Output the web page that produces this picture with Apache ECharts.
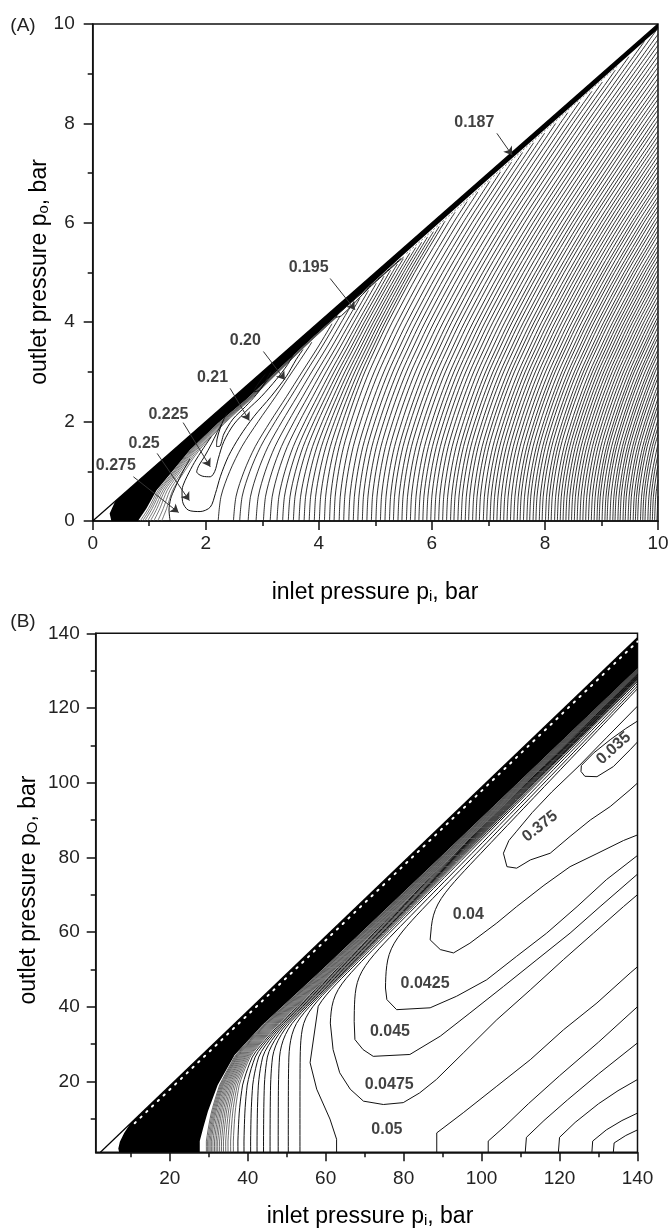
<!DOCTYPE html>
<html>
<head>
<meta charset="utf-8">
<script src="https://cdn.jsdelivr.net/npm/echarts@6/dist/echarts.min.js"></script>
<style>
  html, body { margin: 0; padding: 0; background: #fff; }
  #chart { width: 672px; height: 1231px; }
</style>
</head>
<body>
<div id="chart"></div>
<script>
var FONT = 'Liberation Sans, Arial, sans-serif';

// ---------------- panel A : 0..10 bar ----------------
var ticksA = [0, 2, 4, 6, 8, 10];
var minorTicksA = [1, 3, 5, 7, 9];
var diagA = [[0, 0], [10, 10]];
// lower edge of the black band under the diagonal [p_i, p_o]
var bandEdgeA = [[0.8, 0], [0.95, 0.25], [1.13, 0.62], [1.33, 0.89], [1.72, 1.43], [2.22, 1.97], [2.7, 2.43],
  [3.15, 2.9], [3.72, 3.51], [4.3, 4.11], [5.5, 5.36], [7, 6.88], [8.5, 8.38], [10, 9.9]];
var bandTopA = [[10, 10], [0.4, 0.4], [0.3, 0.15], [0.33, 0]];
// lines hugging the band at lower left (start on p_o = 0) and how fast they close in
var hugA = [0.84, 0.88, 0.92, 0.97, 1.02, 1.08, 1.15, 1.22];
var hugSpread = [1, 0.85, 0.68, 0.55, 0.4, 0.28, 0.18, 0.12, 0.08, 0.05];
// where the dense contour family cuts p_o = 0
var denseA = [2.22, 2.49, 2.6, 2.75, 2.89, 3.02, 3.14, 3.26, 3.36, 3.46, 3.55, 3.65, 3.74, 3.83, 3.92, 4.01,
  4.10, 4.19, 4.27, 4.36, 4.44, 4.53, 4.61, 4.69, 4.77, 4.85, 4.93, 5.01, 5.09, 5.17, 5.25, 5.32, 5.40, 5.47,
  5.55, 5.62, 5.70, 5.77, 5.84, 5.91, 5.98, 6.05, 6.12, 6.19, 6.26, 6.33, 6.39, 6.46, 6.52, 6.59, 6.65, 6.72,
  6.78, 6.84, 6.91, 6.97, 7.03, 7.09, 7.15, 7.21, 7.27, 7.33, 7.39, 7.45, 7.51, 7.56, 7.62, 7.68, 7.73, 7.79,
  7.84, 7.90, 7.95, 8.01, 8.06, 8.11, 8.17, 8.22, 8.27, 8.32, 8.37, 8.42, 8.47, 8.52, 8.57, 8.62, 8.67, 8.72,
  8.77, 8.82, 8.87, 8.92, 8.96, 9.01, 9.06, 9.10, 9.15, 9.20, 9.24, 9.29, 9.33, 9.38, 9.42, 9.47, 9.51, 9.56,
  9.60, 9.64, 9.69, 9.73, 9.77, 9.82, 9.86, 9.90, 9.94, 9.98];
// traced shape of one member of the family: height and sideways drift
var shapeY = [0, 0.5, 1, 1.5, 2, 2.5, 3, 3.5, 4, 5, 6, 7, 8, 9, 10];
var shapeDX = [0, 0.02, 0.08, 0.17, 0.3, 0.45, 0.62, 0.82, 1.03, 1.5, 2.02, 2.59, 3.18, 3.8, 4.43];
// extra lean of the members next to the valley: lean factor by x-intercept, and its shape by height
var leanX0 = [2.2, 4.2];
var leanK = [2.58, 1];
var leanDX = [0, 0.02, 0.08, 0.16, 0.26, 0.36, 0.44, 0.5, 0.54, 0.58, 0.6, 0.6, 0.6, 0.6, 0.6];
// labelled contours, traced
var c0275 = [[1.37, 0], [1.35, 0.22], [1.38, 0.45], [1.45, 0.65], [1.53, 0.85], [1.62, 1.05], [1.72, 1.25]];
var c0250 = [[2.1, 1.7], [1.95, 1.45], [1.8, 1.18], [1.67, 0.9], [1.6, 0.72], [1.58, 0.62], [1.59, 0.39], [1.69, 0.22],
  [1.9, 0.19], [2.08, 0.28], [2.17, 0.55], [2.26, 0.9], [2.4, 1.3], [2.6, 1.7], [2.85, 2.1], [3.15, 2.5], [3.42, 2.9],
  [3.6, 3.25], [3.72, 3.45]];
var c0225 = [[2.28, 1.95], [2.2, 1.78], [2.1, 1.55], [1.98, 1.3], [1.88, 1.12], [1.84, 0.99], [1.95, 0.9], [2.08, 0.89],
  [2.16, 1.0], [2.22, 1.25], [2.32, 1.6], [2.5, 1.95], [2.75, 2.25], [2.98, 2.5], [3.25, 2.85], [3.45, 3.15], [3.55, 3.35]];
var c0210 = [[2.38, 2.18], [2.32, 2.05], [2.25, 1.85], [2.2, 1.65], [2.19, 1.5], [2.24, 1.5], [2.32, 1.75], [2.48, 2.05],
  [2.7, 2.3], [2.9, 2.55], [3.1, 2.85], [3.25, 3.05]];
var c0200 = [[3.05, 2.95], [2.95, 2.8], [2.87, 2.66], [2.85, 2.6], [2.95, 2.63], [3.05, 2.8], [3.15, 3.0]];
var c0195 = [[5.45, 5.28], [4.8, 4.62], [4.35, 4.18], [4.3, 4.1], [4.4, 4.13], [4.9, 4.7], [5.5, 5.31]];
var c0187 = [[5.55, 5.38], [9.3, 9.17]];
var labelsA = [['0.187', 6.75, 8.01], ['0.195', 3.82, 5.09], ['0.20', 2.70, 3.63], ['0.21', 2.12, 2.89],
  ['0.225', 1.34, 2.15], ['0.25', 0.91, 1.55], ['0.275', 0.41, 1.11]];
var leadersA = [[7.15, 7.80, 7.42, 7.36], [4.20, 4.88, 4.64, 4.25], [3.02, 3.41, 3.40, 2.84], [2.43, 2.67, 2.77, 2.02],
  [1.60, 1.98, 2.08, 1.09], [1.14, 1.36, 1.71, 0.41], [0.72, 0.89, 1.52, 0.17]];

// ---------------- panel B : 1..140 bar ----------------
var ticksB = [20, 40, 60, 80, 100, 120, 140];
var minorTicksB = [10, 30, 50, 70, 90, 110, 130];
var diagB = [[2.2, 1], [140, 138.8]];
var dotsB = [[11, 8.8], [140, 137.8]];
// band width below the diagonal, by p_o
var bandBY = [1, 4, 8, 12, 19, 27, 35, 50, 80, 110, 140];
var bandBW = [25.5, 22.5, 19.5, 16.6, 12.1, 8.4, 7.5, 8.0, 8.2, 8.2, 8.2];
var bandNotchB = [[9.8, 8.6], [8.3, 6.2], [7.2, 3.8], [6.8, 2], [7.0, 1]];
// contours rising from p_o = 1 into the band: start p_i and spacing from the band
var leftB = [27.4, 27.8, 28.2, 28.6, 29.0, 29.5, 30.0, 30.5, 31.0, 31.6, 32.2, 32.8, 33.5, 34.2, 35.0, 35.8,
  37.1, 38.8, 40.6, 42.3, 44.0, 45.7, 47.8, 50.4, 53.4];
var leftBE = [0.2, 0.45, 0.7, 0.95, 1.2, 1.5, 1.8, 2.1, 2.4, 2.7, 3.0, 3.3, 3.6, 3.9, 4.2, 4.5,
  5.0, 5.5, 6.0, 6.5, 7.0, 7.5, 8.0, 8.5, 9.0];
// labelled contours: traced part, then where the upper arm meets the band [p_i, p_o, spacing]
var c050 = [[56, 40.1], [56, 25], [57.7, 17.9], [61.1, 9.9], [62.8, 4.5], [62.8, 1]];
var c050Top = [56, 40.1, 9.8];
var c0475 = [[61.1, 35.6], [61.9, 28.5], [63.6, 22.3], [66.3, 17.9], [69.7, 14.7], [74.8, 13.8], [79.9, 14.3], [84.1, 16.9],
  [88.4, 20.5], [95.3, 27.6], [103.9, 36.5], [112.5, 44.5], [121, 52.6], [128.7, 59.7], [136.4, 66.8], [140, 70]];
var c0475Top = [61.1, 35.6, 10.8];
var c045 = [[67.3, 36], [67.5, 31.2], [69.6, 28.5], [72.2, 26.7], [81.6, 27.2], [89.4, 32.1], [97, 38.3], [105.6, 45.4],
  [114.2, 52.6], [122.7, 59.7], [130.4, 66.8], [140, 75.5]];
var c045Top = [67.3, 36, 12.5];
var c0425 = [[75.3, 45], [75.7, 41.9], [78.2, 39.2], [86.8, 39.7], [93.6, 42.8], [101.3, 47.2], [109, 53.5], [116.7, 59.7],
  [124.5, 66.8], [132, 74], [140, 80.5]];
var c0425Top = [75.3, 45, 14.5];
var c040 = [[86.8, 60], [86.8, 57.9], [89.4, 55.3], [92.8, 54.4], [97, 57], [103.9, 62.4], [109, 66.8], [116, 72.5],
  [122.7, 77.5], [129.6, 81], [136.4, 84.5], [140, 86]];
var c040Top = [86.8, 60, 16.5];
var c0375 = [[140, 120.5], [132, 112], [125, 104.5], [118, 97.5], [113, 92], [109, 87], [107, 84.5], [105.6, 81.1],
  [106.5, 77.5], [109, 77.1], [112.5, 79.3], [117.6, 81.1], [122.7, 85.6], [127.9, 90], [133, 93.6], [138.1, 98.1], [140, 99.9]];
var c035 = [[140, 116.5], [137, 114.5], [133, 111.5], [128.7, 107.9], [125.6, 104.6], [125.5, 103], [126.5, 101.7],
  [129.6, 101.6], [133.8, 104.3], [138.1, 108.8], [140, 110.9]];
var rightB = [
  [[88.5, 1], [88.5, 6.2], [95.3, 11.6], [103.9, 18.7], [112.5, 25.8], [121, 33.8], [129.6, 41], [138.1, 49], [140, 50.7]],
  [[101.7, 1], [101.7, 4], [106, 8], [112, 14], [120, 21.5], [130, 30.5], [140, 40]],
  [[111.2, 1], [111.5, 5], [116, 9.5], [122, 15], [130, 22], [140, 30.3]],
  [[119.7, 1], [120, 5], [124, 9], [130, 14], [135, 17.5], [140, 20.5]],
  [[128.3, 1], [128.5, 4], [132, 7], [136, 9.5], [140, 11.5]],
  [[133.8, 1], [134, 3.5], [137, 5.5], [140, 7]]
];
var labelsB = [['0.035', 133.9, 109.2, 42], ['0.375', 115.0, 88.3, 38], ['0.04', 96.6, 64.6, 0],
  ['0.0425', 85.5, 46.3, 0], ['0.045', 76.5, 33.2, 0], ['0.0475', 76.3, 19.1, 0], ['0.05', 75.7, 7.1, 0]];

// ---------------- helpers ----------------
function table(xs, ys, v) {
  if (v <= xs[0]) return ys[0];
  for (var i = 1; i < xs.length; i++) {
    if (v <= xs[i]) {
      var t = (v - xs[i - 1]) / (xs[i] - xs[i - 1]);
      return ys[i - 1] + t * (ys[i] - ys[i - 1]);
    }
  }
  return ys[ys.length - 1];
}
var bandAYs = bandEdgeA.map(function (p) { return p[1]; });
var bandAXs = bandEdgeA.map(function (p) { return p[0]; });
function limitA(y) { return table(bandAYs, bandAXs, y) + (y > 3 ? 0.07 : 0.03); }

// stop a line where it runs into the band or leaves the frame
function cut(raw, limitFn, xMax) {
  var out = [];
  for (var i = 0; i < raw.length; i++) {
    var p = raw[i];
    var f = p[0] - limitFn(p[1]);
    if (f < 0 || p[0] > xMax) {
      if (out.length) {
        var q = out[out.length - 1];
        var t;
        if (f < 0) { var fq = q[0] - limitFn(q[1]); t = fq / (fq - f); }
        else t = (xMax - q[0]) / (p[0] - q[0]);
        out.push([q[0] + t * (p[0] - q[0]), q[1] + t * (p[1] - q[1])]);
      }
      break;
    }
    out.push(p);
  }
  return out;
}

function followB(xv, y0, e) {
  var pts = [];
  for (var y = y0; y <= 139; y += 1.5) {
    var xb = y + 1.2 + table(bandBY, bandBW, y) + e * (1 - 0.75 * y / 140);
    var x = xv + 2.5 * Math.log(1 + Math.exp((xb - xv) / 2.5));
    if (x > 140) {
      if (pts.length) {
        var q = pts[pts.length - 1];
        var t = (140 - q[0]) / (x - q[0]);
        pts.push([140, q[1] + t * (y - q[1])]);
      }
      break;
    }
    pts.push([x, y]);
  }
  return pts;
}

function poly(pts, ax, color, width, extra) {
  var s = {
    type: 'line', xAxisIndex: ax, yAxisIndex: ax, data: pts, symbol: 'none', showSymbol: false,
    silent: true, animation: false, clip: true, z: 2,
    lineStyle: { color: color, width: width }
  };
  if (extra) for (var k in extra) s[k] = extra[k];
  return s;
}

function polygon(pts, ax, fill) {
  return {
    type: 'custom', xAxisIndex: ax, yAxisIndex: ax, silent: true, animation: false, clip: true, z: 2,
    data: [[0, 0]],
    renderItem: function (params, api) {
      return { type: 'polygon', shape: { points: pts.map(function (p) { return api.coord(p); }) }, style: { fill: fill } };
    }
  };
}

function labelSeries(list, ax) {
  return {
    type: 'scatter', xAxisIndex: ax, yAxisIndex: ax, silent: true, animation: false, z: 6,
    symbolSize: 2, itemStyle: { color: 'rgba(0,0,0,0)' },
    label: { show: true, position: 'inside', formatter: '{b}', fontSize: 16, fontWeight: 'bold', fontFamily: FONT, color: '#111' },
    data: list.map(function (l) {
      return { name: l[0], value: [l[1], l[2]], label: { rotate: l[3] || 0 } };
    })
  };
}

function axisPair(grid, min, max, major, minor, margin, pos) {
  var line = { color: '#111', width: 1.5 };
  return [{
    type: 'value', gridIndex: grid, min: min, max: max, position: pos, offset: 0,
    axisLine: { show: true, onZero: false, lineStyle: line },
    axisTick: { show: true, inside: false, length: 9, customValues: major, lineStyle: line },
    axisLabel: { show: true, customValues: major, margin: margin, fontSize: 19, color: '#222', fontFamily: FONT },
    splitLine: { show: false }
  }, {
    type: 'value', gridIndex: grid, min: min, max: max, position: pos, offset: 0,
    axisLine: { show: false, onZero: false },
    axisTick: { show: true, inside: false, length: 5, customValues: minor, lineStyle: line },
    axisLabel: { show: false },
    splitLine: { show: false }
  }];
}

// ---------------- series ----------------
var series = [];

// panel A dense family
denseA.forEach(function (x0) {
  var k = table(leanX0, leanK, x0);
  var raw = shapeY.map(function (y, i) {
    return [x0 + shapeDX[i] + (k - 1) * leanDX[i], y];
  });
  series.push(poly(cut(raw, limitA, 10), 0, '#1a1a1a', 0.9, { smooth: 0.3 }));
});
hugA.forEach(function (x0) {
  var pts = [];
  for (var i = 0; i < hugSpread.length; i++) {
    pts.push([bandEdgeA[i][0] + (x0 - 0.8) * hugSpread[i], bandEdgeA[i][1]]);
  }
  series.push(poly(pts, 0, '#555', 0.8, { smooth: 0.3 }));
});
[c0275, c0250, c0225, c0210, c0200, c0195].forEach(function (c) {
  series.push(poly(c, 0, '#111', 1, { smooth: 0.3 }));
});
series.push(polygon([[0.33, 0]].concat(bandEdgeA, bandTopA), 0, '#000'));
series.push(poly(c0187, 0, '#777', 1, { lineStyle: { color: '#777', width: 1, type: [2, 2] } }));
series.push(poly(diagA, 0, '#000', 1.2));
series.push({
  type: 'lines', coordinateSystem: 'cartesian2d', xAxisIndex: 0, yAxisIndex: 0, silent: true, animation: false, z: 5,
  symbol: ['none', 'arrow'], symbolSize: 8,
  lineStyle: { color: '#333', width: 1, opacity: 1 },
  data: leadersA.map(function (l) { return { coords: [[l[0], l[1]], [l[2], l[3]]] }; })
});
series.push(labelSeries(labelsA, 0));

// panel B
leftB.forEach(function (x0, i) {
  var grey = i < 16;
  series.push(poly(followB(x0, 1, leftBE[i]), 2, grey ? '#444' : '#111', grey ? 0.8 : 1));
});
[[c050, c050Top], [c0475, c0475Top], [c045, c045Top], [c0425, c0425Top], [c040, c040Top]].forEach(function (c) {
  var top = followB(c[1][0], c[1][1], c[1][2]).reverse();
  series.push(poly(top.concat(c[0].slice(1)), 2, '#111', 1));
});
series.push(poly(c0375, 2, '#111', 1));
series.push(poly(c035, 2, '#111', 1));
rightB.forEach(function (c) { series.push(poly(c, 2, '#111', 1)); });

var bandPolyB = [[7.0, 1]];
for (var i = 0; i < bandBY.length; i++) {
  var x = bandBY[i] + 1.2 + bandBW[i];
  if (x > 140) {
    var py = bandBY[i - 1], px = bandBY[i - 1] + 1.2 + bandBW[i - 1];
    var t = (140 - px) / (x - px);
    bandPolyB.push([140, py + t * (bandBY[i] - py)]);
    break;
  }
  bandPolyB.push([x, bandBY[i]]);
}
bandPolyB.push([140, 138.8]);
bandPolyB = bandPolyB.concat(bandNotchB);
series.push(polygon(bandPolyB, 2, '#000'));
series.push(poly(dotsB, 2, '#fff', 2, { lineStyle: { color: '#fff', width: 2, type: [1.5, 6.5], cap: 'round' }, z: 3 }));
series.push(poly(diagB, 2, '#000', 1.2));
series.push(labelSeries(labelsB, 2));

// ---------------- titles ----------------
var rich = {
  n: { fontSize: 23, fontFamily: FONT, color: '#222', verticalAlign: 'bottom', lineHeight: 26 },
  s: { fontSize: 15, fontFamily: FONT, color: '#222', verticalAlign: 'bottom', lineHeight: 8 }
};
function title(text, x, y, rot) {
  return {
    type: 'text', x: x, y: y, rotation: rot || 0, silent: true,
    style: { text: text, rich: rich, align: 'center', verticalAlign: 'middle', textAlign: 'center', textVerticalAlign: 'middle' }
  };
}
function plain(text, x, y) {
  return {
    type: 'text', x: x, y: y, silent: true,
    style: { text: text, fontSize: 19, fontFamily: FONT, fill: '#222', align: 'center', verticalAlign: 'middle',
      textAlign: 'center', textVerticalAlign: 'middle' }
  };
}

var axA = axisPair(0, 0, 10, ticksA, minorTicksA, 13, 'bottom');
var ayA = axisPair(0, 0, 10, ticksA, minorTicksA, 18, 'left');
var axB = axisPair(1, 1, 140, ticksB, minorTicksB, 17, 'bottom');
var ayB = axisPair(1, 1, 140, ticksB, minorTicksB, 16, 'left');

var chart = echarts.init(document.getElementById('chart'));
chart.setOption({
  animation: false,
  backgroundColor: '#fff',
  grid: [
    { left: 92.7, top: 24, width: 565.3, height: 497, show: true, borderColor: '#111', borderWidth: 1.5, backgroundColor: 'transparent' },
    { left: 95.7, top: 633.3, width: 541.8, height: 519, show: true, borderColor: '#111', borderWidth: 1.5, backgroundColor: 'transparent' }
  ],
  xAxis: [axA[0], axA[1], axB[0], axB[1]],
  yAxis: [ayA[0], ayA[1], ayB[0], ayB[1]],
  graphic: [
    plain('(A)', 23, 26),
    plain('(B)', 23, 622),
    title('{n|inlet pressure p}{s|i}{n|, bar}', 375, 591),
    title('{n|inlet pressure p}{s|i}{n|, bar}', 370, 1215),
    title('{n|outlet pressure p}{s|o}{n|, bar}', 38, 272, Math.PI / 2),
    title('{n|outlet pressure p}{s|O}{n|, bar}', 27, 890, Math.PI / 2)
  ],
  series: series
});
</script>
</body>
</html>
